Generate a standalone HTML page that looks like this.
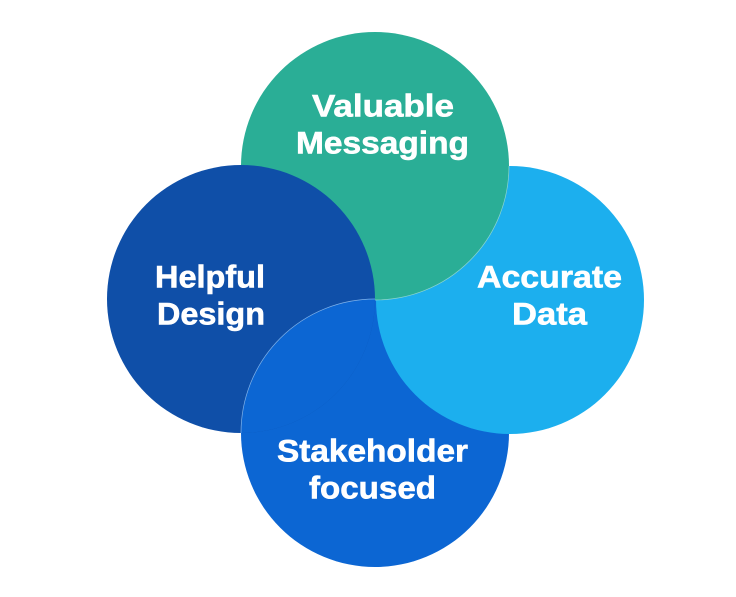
<!DOCTYPE html>
<html>
<head>
<meta charset="utf-8">
<style>
html,body{margin:0;padding:0;background:#fff;width:736px;height:597px;overflow:hidden}
svg{display:block}
text{font-family:"Liberation Sans",sans-serif;font-weight:700;font-size:31.5px;fill:#fff;stroke:#fff;stroke-width:.6px}
</style>
</head>
<body>
<svg width="736" height="597" viewBox="0 0 736 597" xmlns="http://www.w3.org/2000/svg">
<rect width="736" height="597" fill="#fff"/>
<circle cx="375" cy="433" r="134" fill="#0C66D3"/>
<circle cx="510" cy="300" r="134" fill="#1CAFEE"/>
<circle cx="375" cy="166" r="134" fill="#2AAE96"/>
<path d="M509 166A134 134 0 0 1 375 300" fill="none" stroke="#8FD6D0" stroke-width=".7"/>
<circle cx="241" cy="299" r="134" fill="#0F4FA8"/>
<path d="M375 299A134 134 0 0 0 241 433A134 134 0 0 0 375 299Z" fill="#0C66D3"/>
<path d="M375 299A134 134 0 0 0 241 433" fill="none" stroke="#7FB2EA" stroke-width=".7"/>
<text x="312" y="116.5" textLength="142" lengthAdjust="spacingAndGlyphs">Valuable</text>
<text x="296" y="153.5" textLength="173" lengthAdjust="spacingAndGlyphs">Messaging</text>
<text x="155" y="287.5" textLength="110" lengthAdjust="spacingAndGlyphs">Helpful</text>
<text x="157" y="324.5" textLength="108" lengthAdjust="spacingAndGlyphs">Design</text>
<text x="477" y="287.5" textLength="145" lengthAdjust="spacingAndGlyphs">Accurate</text>
<text x="512" y="324.5" textLength="75" lengthAdjust="spacingAndGlyphs">Data</text>
<text x="277" y="461.5" textLength="191" lengthAdjust="spacingAndGlyphs">Stakeholder</text>
<text x="309" y="498.5" textLength="127" lengthAdjust="spacingAndGlyphs">focused</text>
</svg>
</body>
</html>
